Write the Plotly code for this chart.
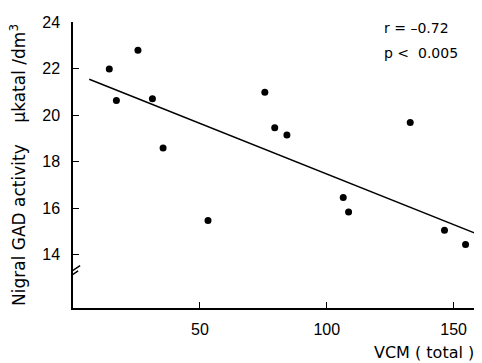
import plotly.graph_objects as go

# Data
vcm_total = [14.3, 17.1, 25.6, 31.3, 35.5, 53.2, 75.6, 79.5, 84.3, 106.5, 108.6, 132.9, 146.4, 154.7]
gad_activity = [21.98, 20.62, 22.79, 20.70, 18.58, 15.46, 20.98, 19.45, 19.14, 16.45, 15.83, 19.68, 15.04, 14.43]

# Regression line endpoints (as drawn)
fit_x = [6.4, 160.5]
fit_y = [21.54, 14.83]

x_ticks = [50, 100, 150]
y_ticks = [14, 16, 18, 20, 22, 24]

TICK_FONT = "Liberation Sans, Arial, sans-serif"
TEXT_FONT = "DejaVu Sans, sans-serif"

fig = go.Figure()
fig.add_trace(go.Scatter(x=fit_x, y=fit_y, mode="lines",
                         line=dict(color="black", width=1.5), hoverinfo="skip"))
fig.add_trace(go.Scatter(x=vcm_total, y=gad_activity, mode="markers",
                         marker=dict(color="black", size=7)))

fig.update_layout(
    width=474, height=355,
    margin=dict(l=65, r=3, t=14, b=55),
    paper_bgcolor="white", plot_bgcolor="white",
    showlegend=False,
    font=dict(family=TEXT_FONT, size=15, color="black"),
    xaxis=dict(range=[0, 160], tickvals=x_ticks, ticks="inside", ticklen=6,
               tickcolor="black", showline=True, linecolor="black", linewidth=1.5,
               showgrid=False, zeroline=False,
               tickfont=dict(family=TICK_FONT, size=16),
               ticklabelstandoff=6, automargin=False),
    yaxis=dict(range=[11.7, 24], tickvals=y_ticks, ticks="inside", ticklen=6,
               tickcolor="black", showline=True, linecolor="black", linewidth=1.5,
               showgrid=False, zeroline=False,
               tickfont=dict(family=TICK_FONT, size=16),
               ticklabelstandoff=8, automargin=False),
)

# Y axis title
fig.add_annotation(text="Nigral GAD activity\u00a0\u00a0\u00a0\u00a0μkatal\u00a0/dm<sup>3</sup>",
                   xref="paper", yref="paper", x=0, y=0.5, xanchor="center",
                   yanchor="middle", xshift=-55, textangle=-90,
                   showarrow=False, font=dict(family=TEXT_FONT, size=17))

# X axis title at lower right
fig.add_annotation(text="VCM ( total )", xref="paper", yref="paper",
                   x=0.993, y=0, xanchor="right", yanchor="middle", yshift=-44,
                   showarrow=False, font=dict(family=TEXT_FONT, size=16))

# Statistics text
fig.add_annotation(text="r = \u20130.72", xref="paper", yref="paper",
                   x=0.762, y=0.979, xanchor="left", yanchor="middle",
                   showarrow=False, font=dict(family=TEXT_FONT, size=14))
fig.add_annotation(text="p <  0.005", xref="paper", yref="paper",
                   x=0.762, y=0.892, xanchor="left", yanchor="middle",
                   showarrow=False, font=dict(family=TEXT_FONT, size=14))

# Axis break marks
fig.add_shape(type="line", xref="x", yref="y", x0=-2.1, y0=13.16, x1=2.8, y1=13.52,
              line=dict(color="black", width=1.5))
fig.add_shape(type="line", xref="x", yref="y", x0=-2.5, y0=12.95, x1=2.0, y1=13.30,
              line=dict(color="black", width=1.5))

fig.write_html("out.html")
